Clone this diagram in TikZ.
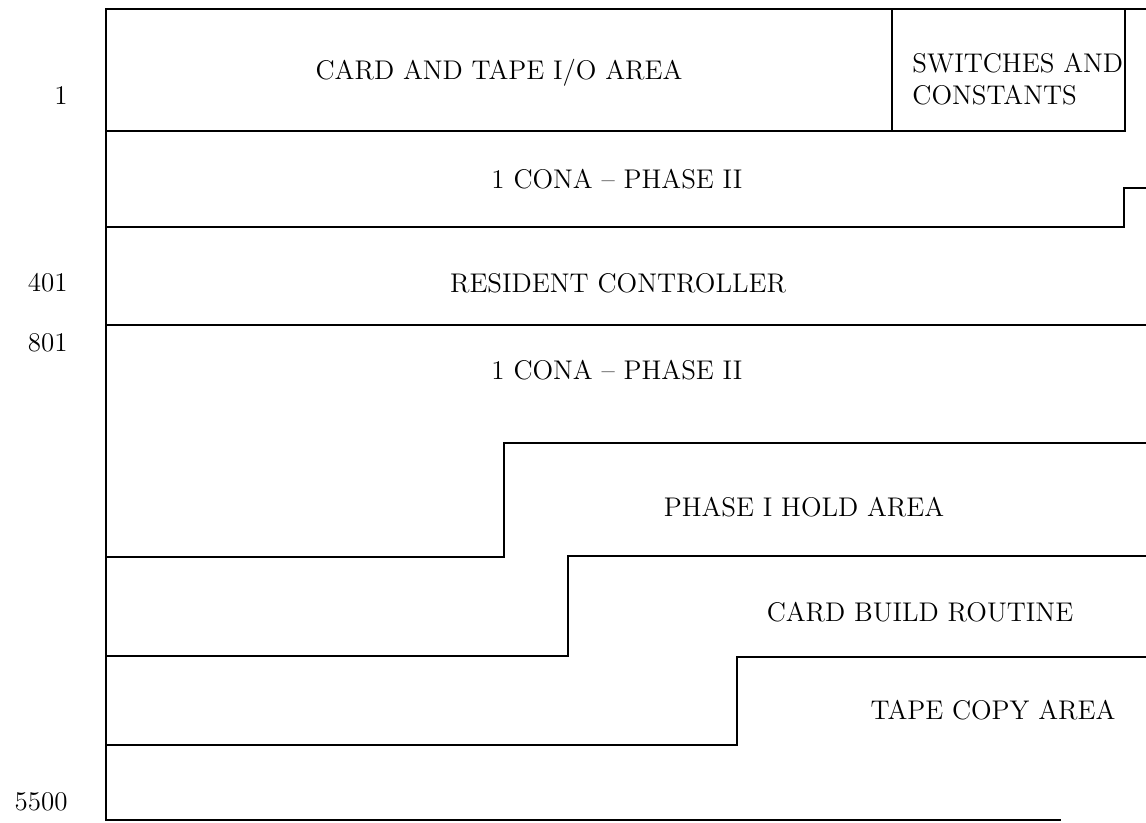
\documentclass[tikz,border=0pt]{standalone}
\usepackage{tikz}
\usetikzlibrary{positioning}
\tikzset{
  areatext/.style={
    font=\fontsize{13.5}{16}\selectfont, inner sep=0pt,
    text centered
  },
  addrtext/.style={
    font=\fontsize{13.5}{16}\selectfont, inner sep=0pt,
    anchor=east
  },
  mapline/.style={line width=1pt, line cap=rect, line join=miter},
}
\begin{document}
\begin{tikzpicture}[x=0.5pt, y=-0.5pt]
  \useasboundingbox (0,0) rectangle (1146,823);

  % frame
  \draw[mapline] (1146,9) -- (106,9) -- (106,820) -- (1060,820);
  \draw[mapline] (106,131) -- (1125,131);
  \draw[mapline] (892,9) -- (892,131);
  \draw[mapline] (1125,9) -- (1125,131);
  \draw[mapline] (106,227) -- (1124,227) -- (1124,188) -- (1146,188);
  \draw[mapline] (106,325) -- (1146,325);
  \draw[mapline] (106,557) -- (504,557) -- (504,443) -- (1146,443);
  \draw[mapline] (106,656) -- (568,656) -- (568,556) -- (1146,556);
  \draw[mapline] (106,745) -- (737,745) -- (737,657) -- (1146,657);

  % areas
  \node[areatext] (cardtape) at (499,73) {CARD AND TAPE I/O AREA};
  \node[areatext, align=left, anchor=west] (switches) at (912,79)
    {SWITCHES AND\\CONSTANTS};
  \node[areatext] (conaone) at (617,179) {1 CONA -- PHASE II};
  \node[areatext] (resident) at (618,283) {RESIDENT CONTROLLER};
  \node[areatext] (conatwo) at (617,370) {1 CONA -- PHASE II};
  \node[areatext] (holdarea) at (804,507) {PHASE I HOLD AREA};
  \node[areatext] (cardbuild) at (920,612) {CARD BUILD ROUTINE};
  \node[areatext] (tapecopy) at (993,710) {TAPE COPY AREA};

  % addresses
  \node[addrtext] (addr1) at (68,96) {1};
  \node[addrtext] (addr401) at (68,283) {401};
  \node[addrtext] (addr801) at (68,343) {801};
  \node[addrtext] (addr5500) at (68,802) {5500};
\end{tikzpicture}
\end{document}
